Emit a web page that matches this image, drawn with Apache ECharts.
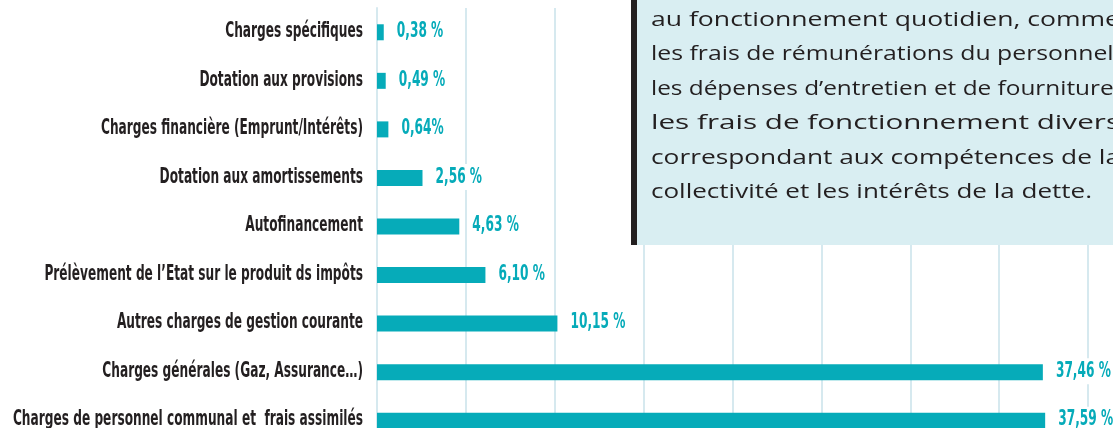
<!DOCTYPE html>
<html>
<head>
<meta charset="utf-8">
<script src="https://cdn.jsdelivr.net/npm/echarts@6/dist/echarts.min.js"></script>
<style>
  html, body { margin: 0; padding: 0; background: #fff; }
  #main { width: 1113px; height: 428px; }
</style>
</head>
<body>
<div id="main"></div>
<script>
var categories = [
  "Charges spécifiques",
  "Dotation aux provisions",
  "Charges financière (Emprunt/Intérêts)",
  "Dotation aux amortissements",
  "Autofinancement",
  "Prélèvement de l’Etat sur le produit ds impôts",
  "Autres charges de gestion courante",
  "Charges générales (Gaz, Assurance…)",
  "Charges de personnel communal et  frais assimilés"
];
var values = [0.38, 0.49, 0.64, 2.56, 4.63, 6.10, 10.15, 37.46, 37.59];
var valueLabels = ["0,38 %", "0,49 %", "0,64%", "2,56 %", "4,63 %", "6,10 %", "10,15 %", "37,46 %", "37,59 %"];
var xTicks = [0, 5, 10, 15, 20, 25, 30, 35, 40];

var noteLines = [
  "au fonctionnement quotidien, comme",
  "les frais de rémunérations du personnel,",
  "les dépenses d’entretien et de fourniture,",
  "les frais de fonctionnement divers",
  "correspondant aux compétences de la",
  "collectivité et les intérêts de la dette."
];

var teal = '#06abb9';
var ink = '#231f20';
var gridColor = '#d6e9ef';
var condensed = '"Liberation Sans Narrow", "DejaVu Sans Condensed", sans-serif';
var squeeze = 0.615;   // the print font is much narrower than anything installed
var noteFont = '20px "Open Sans", "Noto Sans", sans-serif';

var chartDom = document.getElementById('main');
var myChart = echarts.init(chartDom);
var option;

// text box on the right; each line widened to the justified width of the print
var measure = document.createElement('canvas').getContext('2d');
measure.font = noteFont;
var noteGraphics = [
  { type: 'rect', left: 631, top: 0, shape: { width: 482, height: 245 }, style: { fill: '#d9eef2' }, z: 10 },
  { type: 'rect', left: 631, top: 0, shape: { width: 6, height: 245 }, style: { fill: ink }, z: 11 }
];
var noteLeft = 651;
noteLines.forEach(function (line, i) {
  var last = i === noteLines.length - 1;
  var right = last ? 1092 : 1120;
  var natural = measure.measureText(line).width;
  noteGraphics.push({
    type: 'text', x: noteLeft, y: 20 + i * 34.5, z: 12,
    scaleX: (right - noteLeft) / natural,
    style: { text: line, fill: ink, font: noteFont, verticalAlign: 'middle' }
  });
});

option = {
  backgroundColor: '#fff',
  animation: false,
  grid: {
    left: 377,
    right: 25,
    top: 8,
    height: 437,
    containLabel: false,
    outerBoundsMode: 'none'
  },
  xAxis: {
    type: 'value',
    min: xTicks[0],
    max: xTicks[xTicks.length - 1],
    interval: xTicks[1] - xTicks[0],
    axisLabel: { show: false },
    axisLine: { show: false },
    axisTick: { show: false },
    splitLine: { show: true, lineStyle: { color: gridColor, width: 2 } }
  },
  yAxis: {
    type: 'category',
    inverse: true,
    data: categories,
    axisTick: { show: false },
    axisLine: { show: true, lineStyle: { color: gridColor, width: 2 } },
    axisLabel: { show: false }
  },
  series: [{
    type: 'bar',
    data: values,
    barWidth: 16,
    itemStyle: { color: teal }
  }, {
    // category names and value labels, squeezed horizontally
    type: 'custom',
    data: values.map(function (v, i) { return [v, i]; }),
    encode: { x: 0, y: 1 },
    clip: false,
    z: 5,
    renderItem: function (params, api) {
      var i = params.dataIndex;
      var start = api.coord([0, i]);
      var end = api.coord([api.value(0), i]);
      return {
        type: 'group',
        children: [{
          type: 'text',
          x: start[0] - 14, y: start[1] - 1,
          scaleX: squeeze,
          style: {
            text: categories[i], fill: ink,
            font: 'bold 22px ' + condensed,
            align: 'right', verticalAlign: 'middle'
          }
        }, {
          type: 'text',
          x: end[0] + 10, y: start[1] - 1,
          scaleX: squeeze,
          style: {
            text: valueLabels[i], fill: teal,
            font: 'bold 22px ' + condensed,
            align: 'left', verticalAlign: 'middle',
            backgroundColor: '#fff', padding: [2, 5]
          }
        }]
      };
    }
  }],
  graphic: noteGraphics
};

option && myChart.setOption(option);
</script>
</body>
</html>
